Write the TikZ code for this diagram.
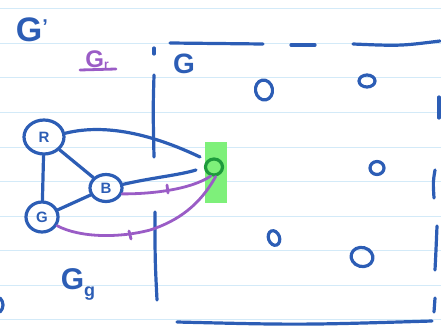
\documentclass[tikz,border=0pt]{standalone}
\usepackage{fontspec}
\setmainfont{Liberation Sans}
\usetikzlibrary{shapes.geometric}
\definecolor{ink}{HTML}{2C5DB5}
\definecolor{pur}{HTML}{9A5CC6}
\definecolor{hl}{HTML}{7EF07A}
\definecolor{dgreen}{HTML}{1E9A3C}
\definecolor{rule}{HTML}{D3EAF8}
\tikzset{
  pen/.style={draw=ink, line width=3.2pt, line cap=round, line join=round},
  ppen/.style={draw=pur, line width=2.8pt, line cap=round, line join=round},
  vnode/.style={ellipse, draw=ink, line width=3.2pt, inner sep=0pt, text=ink, font=\fontsize{15}{15}\selectfont\bfseries},
  dot/.style={ellipse, draw=ink, line width=3.2pt, inner sep=0pt},
  hand/.style={text=ink, inner sep=0pt}
}
\begin{document}
\begin{tikzpicture}[x=1pt,y=-1pt]
\useasboundingbox (0,0) rectangle (441,329);
% ruled lines
\foreach \yy in {8,43,77,112,147,181,216,250,285,319}
  \draw[rule, line width=0.8pt] (0,\yy) -- (441,\yy);
% labels
\node[hand, font=\fontsize{34}{34}\selectfont\bfseries] (Gp) at (32,30) {G\raisebox{8pt}{\fontsize{20}{20}\selectfont\bfseries '}};
\node[text=pur, inner sep=0pt, font=\fontsize{24}{24}\selectfont\bfseries] (Gr) at (97,60) {G\raisebox{-1pt}{\fontsize{12}{12}\selectfont r}};
\coordinate (ul1) at (80,70); \coordinate (ul2) at (116,69);
\draw[ppen] (ul1) -- (ul2);
\node[hand, font=\fontsize{28}{28}\selectfont\bfseries] (Gbox) at (184,64) {G};
\node[hand, font=\fontsize{30}{30}\selectfont\bfseries] (Gg) at (78,284) {G\raisebox{-7pt}{\fontsize{18}{18}\selectfont\bfseries g}};
% dividing vertical line
\coordinate (v0) at (154,48); \coordinate (v1) at (154,54);
\coordinate (v2) at (154,75); \coordinate (v3) at (154,157);
\coordinate (v4) at (155,212); \coordinate (v5) at (157,300);
\draw[pen] (v0) -- (v1);
\draw[pen] (v2) .. controls (153,110) .. (v3);
\draw[pen] (v4) .. controls (155,260) .. (v5);
% box borders
\coordinate (t0) at (170,43); \coordinate (t1) at (263,44);
\coordinate (t2) at (291,45); \coordinate (t3) at (315,45);
\coordinate (t4) at (353,44); \coordinate (t5) at (440,41);
\draw[pen] (t0) -- (t1);
\draw[pen] (t2) -- (t3);
\draw[pen] (t4) .. controls (400,46) .. (t5);
\coordinate (r0) at (439,97); \coordinate (r1) at (439,118);
\coordinate (r2) at (435,170); \coordinate (r3) at (434,198);
\coordinate (r4) at (437,226); \coordinate (r5) at (435,270);
\coordinate (r6) at (435,298); \coordinate (r7) at (434,312);
\draw[pen] (r0) -- (r1);
\draw[pen] (r2) .. controls (433,182) .. (r3);
\draw[pen] (r4) .. controls (436,250) .. (r5);
\draw[pen] (r6) -- (r7);
\coordinate (b0) at (177,322); \coordinate (b1) at (432,321);
\draw[pen] (b0) .. controls (300,325) .. (b1);
% partial paren at left edge
\coordinate (p0) at (0,298); \coordinate (p1) at (0,312);
\draw[pen] (p0) .. controls (4,302) and (4,308) .. (p1);
% small circles in G
\node[dot, minimum width=17pt, minimum height=20pt, rotate=10] (c1) at (264,90) {};
\node[dot, minimum width=16pt, minimum height=12pt] (c2) at (367,81) {};
\node[dot, minimum width=14pt, minimum height=13pt] (c3) at (377,168) {};
\node[dot, minimum width=11pt, minimum height=15pt, rotate=20] (c4) at (274,238) {};
\node[dot, minimum width=22pt, minimum height=19pt, rotate=-15] (c5) at (362,257) {};
% green highlighted node
\node[fill=hl, minimum width=22pt, minimum height=61pt, inner sep=0pt] (hlbox) at (216,172) {};
\node[ellipse, draw=dgreen, line width=3.2pt, minimum width=17pt, minimum height=16pt, inner sep=0pt] (o) at (214,167) {};
% graph nodes
\node[vnode, minimum width=40pt, minimum height=34pt] (R) at (44,137) {R};
\node[vnode, minimum width=32pt, minimum height=27pt] (B) at (106,188) {B};
\node[vnode, minimum width=32pt, minimum height=30pt] (G) at (42,217) {G};
% edges
\draw[pen] (R) -- (B);
\draw[pen] (R) -- (G);
\draw[pen] (B) -- (G);
\coordinate (e1) at (200,157);
\coordinate (e2) at (196,170);
\draw[pen] (R.10) .. controls (110,122) and (160,138) .. (e1);
\draw[pen] (B.12) .. controls (150,178) and (180,175) .. (e2);
\draw[ppen] (B.-20) .. controls (150,194) and (190,190) .. (o.250);
\draw[ppen] (G.-30) .. controls (80,238) and (120,238) .. (150,230) .. controls (178,221) and (200,205) .. (o.280);
% ticks
\coordinate (k1a) at (167,185); \coordinate (k1b) at (168,193);
\coordinate (k2a) at (129,231); \coordinate (k2b) at (131,239);
\draw[ppen] (k1a) -- (k1b);
\draw[ppen] (k2a) -- (k2b);
\end{tikzpicture}
\end{document}
